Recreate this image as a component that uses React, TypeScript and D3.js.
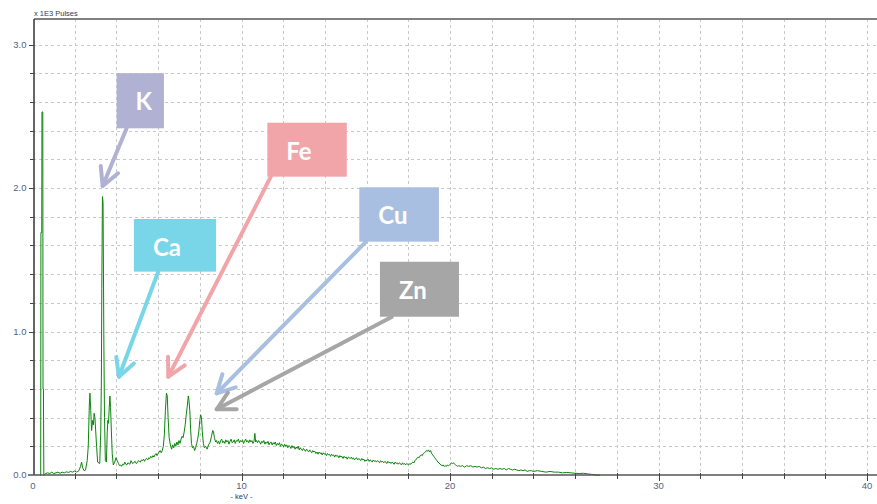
import React, { useEffect, useRef } from 'react';
import * as d3 from 'd3';

const WIDTH = 877;
const HEIGHT = 504;

// EDX spectrum: [keV, x1E3 pulses]
const spectrum: [number, number][] = [
  [0.33, 0], [0.37, 0], [0.38, 1.69], [0.42, 1.69], [0.43, 2.53], [0.47, 2.53], [0.48, 0.6], [0.5, 0.6], [0.52, 0],
  [0.6, 0.01], [0.7, 0.015], [0.8, 0.01], [0.9, 0.02], [1.0, 0.01], [1.1, 0.015], [1.2, 0.02], [1.3, 0.012],
  [1.4, 0.02], [1.5, 0.015], [1.6, 0.022], [1.7, 0.018], [1.8, 0.025], [1.9, 0.02], [2.0, 0.028], [2.1, 0.02],
  [2.2, 0.03], [2.28, 0.06], [2.33, 0.09], [2.38, 0.05], [2.45, 0.03], [2.52, 0.035], [2.6, 0.1], [2.65, 0.2],
  [2.7, 0.48], [2.73, 0.57], [2.77, 0.45], [2.81, 0.31], [2.86, 0.38], [2.9, 0.35], [2.93, 0.43], [2.97, 0.4],
  [3.01, 0.3], [3.05, 0.2], [3.1, 0.09], [3.2, 0.08], [3.25, 0.3], [3.28, 0.67], [3.3, 1.3], [3.33, 1.94],
  [3.36, 1.9], [3.38, 1.4], [3.4, 0.9], [3.43, 0.4], [3.47, 0.1], [3.52, 0.09], [3.56, 0.3], [3.59, 0.38],
  [3.62, 0.36], [3.66, 0.48], [3.69, 0.55], [3.72, 0.47], [3.76, 0.3], [3.8, 0.15], [3.85, 0.07], [3.92, 0.09],
  [3.98, 0.12], [4.04, 0.1], [4.1, 0.08], [4.15, 0.065], [4.2, 0.07], [4.25, 0.06], [4.3, 0.075], [4.35, 0.07],
  [4.4, 0.09], [4.45, 0.075], [4.5, 0.07], [4.55, 0.085], [4.6, 0.08], [4.65, 0.075], [4.7, 0.1], [4.75, 0.085],
  [4.8, 0.08], [4.85, 0.09], [4.9, 0.095], [4.95, 0.08], [5.0, 0.085], [5.05, 0.1], [5.1, 0.095], [5.15, 0.09],
  [5.2, 0.105], [5.25, 0.1], [5.3, 0.11], [5.35, 0.095], [5.4, 0.11], [5.45, 0.115], [5.5, 0.105], [5.55, 0.12],
  [5.6, 0.115], [5.65, 0.13], [5.7, 0.12], [5.75, 0.135], [5.8, 0.125], [5.85, 0.14], [5.9, 0.15], [5.95, 0.135],
  [6.0, 0.15], [6.05, 0.16], [6.1, 0.17], [6.15, 0.155], [6.2, 0.17], [6.25, 0.2], [6.3, 0.28], [6.35, 0.45],
  [6.4, 0.57], [6.44, 0.55], [6.48, 0.4], [6.53, 0.26], [6.6, 0.2], [6.65, 0.18], [6.7, 0.21], [6.75, 0.19],
  [6.8, 0.22], [6.85, 0.2], [6.9, 0.23], [6.95, 0.21], [7.0, 0.24], [7.05, 0.22], [7.1, 0.25], [7.15, 0.27],
  [7.2, 0.26], [7.25, 0.3], [7.3, 0.35], [7.35, 0.42], [7.4, 0.48], [7.45, 0.55], [7.48, 0.52], [7.52, 0.45],
  [7.56, 0.32], [7.6, 0.22], [7.65, 0.19], [7.7, 0.2], [7.75, 0.17], [7.8, 0.19], [7.85, 0.22], [7.9, 0.25],
  [7.95, 0.3], [8.0, 0.38], [8.04, 0.42], [8.08, 0.4], [8.12, 0.3], [8.17, 0.22], [8.22, 0.19], [8.28, 0.2],
  [8.35, 0.18], [8.42, 0.21], [8.5, 0.23], [8.56, 0.27], [8.62, 0.31], [8.66, 0.3], [8.7, 0.26], [8.76, 0.23],
  [8.8, 0.24], [8.85, 0.22], [8.9, 0.235], [8.95, 0.215], [9.0, 0.24], [9.05, 0.25], [9.1, 0.225], [9.15, 0.235],
  [9.2, 0.22], [9.25, 0.245], [9.3, 0.23], [9.35, 0.24], [9.4, 0.215], [9.45, 0.235], [9.5, 0.25], [9.55, 0.225],
  [9.6, 0.23], [9.65, 0.245], [9.7, 0.22], [9.75, 0.24], [9.8, 0.235], [9.85, 0.25], [9.9, 0.225], [9.95, 0.24],
  [10.0, 0.23], [10.05, 0.245], [10.1, 0.22], [10.15, 0.235], [10.2, 0.25], [10.25, 0.23], [10.3, 0.24], [10.35, 0.225],
  [10.4, 0.245], [10.45, 0.23], [10.5, 0.24], [10.55, 0.22], [10.6, 0.235], [10.64, 0.29], [10.68, 0.23], [10.72, 0.24],
  [10.77, 0.225], [10.82, 0.24], [10.87, 0.23], [10.92, 0.215], [10.97, 0.235], [11.02, 0.225], [11.07, 0.24], [11.12, 0.215],
  [11.17, 0.23], [11.22, 0.22], [11.27, 0.235], [11.32, 0.21], [11.37, 0.225], [11.42, 0.23], [11.47, 0.21], [11.52, 0.225],
  [11.57, 0.215], [11.62, 0.23], [11.67, 0.205], [11.72, 0.22], [11.77, 0.21], [11.82, 0.225], [11.87, 0.2], [11.92, 0.215],
  [11.97, 0.21], [12.02, 0.195], [12.07, 0.215], [12.12, 0.2], [12.17, 0.21], [12.22, 0.19], [12.27, 0.205], [12.32, 0.2],
  [12.37, 0.185], [12.42, 0.205], [12.47, 0.19], [12.52, 0.2], [12.57, 0.18], [12.62, 0.195], [12.67, 0.185], [12.72, 0.2],
  [12.77, 0.175], [12.82, 0.19], [12.87, 0.18], [12.92, 0.17], [12.97, 0.185], [13.02, 0.175], [13.07, 0.165], [13.12, 0.18],
  [13.17, 0.17], [13.22, 0.16], [13.27, 0.175], [13.32, 0.165], [13.37, 0.155], [13.42, 0.17], [13.47, 0.16], [13.52, 0.165],
  [13.57, 0.15], [13.62, 0.16], [13.67, 0.145], [13.72, 0.16], [13.77, 0.15], [13.82, 0.155], [13.87, 0.14], [13.92, 0.155],
  [13.97, 0.145], [14.02, 0.15], [14.07, 0.135], [14.12, 0.15], [14.17, 0.14], [14.22, 0.145], [14.27, 0.13], [14.32, 0.145],
  [14.37, 0.135], [14.42, 0.14], [14.47, 0.125], [14.52, 0.14], [14.57, 0.13], [14.62, 0.135], [14.67, 0.12], [14.72, 0.135],
  [14.77, 0.125], [14.82, 0.13], [14.87, 0.115], [14.92, 0.13], [14.97, 0.12], [15.02, 0.125], [15.07, 0.11], [15.12, 0.125],
  [15.17, 0.12], [15.22, 0.115], [15.27, 0.125], [15.32, 0.11], [15.37, 0.12], [15.42, 0.105], [15.47, 0.115], [15.52, 0.12],
  [15.57, 0.105], [15.62, 0.115], [15.67, 0.11], [15.72, 0.1], [15.77, 0.115], [15.82, 0.105], [15.87, 0.11], [15.92, 0.095],
  [15.97, 0.105], [16.02, 0.1], [16.07, 0.11], [16.12, 0.095], [16.17, 0.105], [16.22, 0.1], [16.27, 0.09], [16.32, 0.105],
  [16.37, 0.095], [16.42, 0.1], [16.47, 0.09], [16.52, 0.1], [16.57, 0.095], [16.62, 0.085], [16.67, 0.1], [16.72, 0.09],
  [16.77, 0.095], [16.82, 0.085], [16.87, 0.095], [16.92, 0.09], [16.97, 0.08], [17.02, 0.095], [17.07, 0.085], [17.12, 0.09],
  [17.17, 0.08], [17.22, 0.09], [17.27, 0.085], [17.32, 0.075], [17.37, 0.09], [17.42, 0.08], [17.47, 0.085], [17.52, 0.075],
  [17.57, 0.085], [17.62, 0.08], [17.67, 0.07], [17.72, 0.085], [17.77, 0.075], [17.82, 0.08], [17.87, 0.07], [17.92, 0.08],
  [17.97, 0.075], [18.02, 0.07], [18.07, 0.08], [18.12, 0.075], [18.17, 0.085], [18.22, 0.09], [18.27, 0.085], [18.32, 0.1],
  [18.37, 0.11], [18.42, 0.115], [18.47, 0.125], [18.52, 0.12], [18.57, 0.135], [18.62, 0.14], [18.67, 0.135], [18.72, 0.15],
  [18.77, 0.155], [18.82, 0.16], [18.87, 0.17], [18.92, 0.165], [18.97, 0.175], [19.02, 0.16], [19.07, 0.17], [19.12, 0.15],
  [19.17, 0.14], [19.22, 0.13], [19.27, 0.12], [19.32, 0.11], [19.37, 0.1], [19.42, 0.09], [19.47, 0.085], [19.52, 0.075],
  [19.57, 0.07], [19.62, 0.065], [19.67, 0.07], [19.72, 0.06], [19.77, 0.065], [19.82, 0.06], [19.87, 0.07], [19.92, 0.065],
  [19.97, 0.07], [20.02, 0.075], [20.07, 0.085], [20.12, 0.08], [20.17, 0.085], [20.22, 0.075], [20.27, 0.07], [20.32, 0.065],
  [20.37, 0.06], [20.42, 0.065], [20.5, 0.06], [20.6, 0.065], [20.7, 0.055], [20.8, 0.065], [20.9, 0.06], [21.0, 0.065],
  [21.1, 0.055], [21.2, 0.06], [21.3, 0.055], [21.4, 0.06], [21.5, 0.05], [21.6, 0.055], [21.7, 0.045], [21.8, 0.05],
  [21.9, 0.045], [22.0, 0.05], [22.1, 0.04], [22.2, 0.045], [22.3, 0.04], [22.4, 0.045], [22.5, 0.04], [22.6, 0.045],
  [22.7, 0.035], [22.8, 0.045], [22.9, 0.04], [23.0, 0.035], [23.1, 0.04], [23.2, 0.035], [23.3, 0.03], [23.4, 0.035],
  [23.5, 0.03], [23.6, 0.035], [23.7, 0.025], [23.8, 0.03], [23.9, 0.03], [24.0, 0.025], [24.2, 0.03], [24.4, 0.025],
  [24.6, 0.02], [24.8, 0.025], [25.0, 0.02], [25.2, 0.02], [25.4, 0.015], [25.6, 0.018], [25.8, 0.015], [26.0, 0.012],
  [26.2, 0.01], [26.4, 0.012], [26.6, 0.008], [26.8, 0.004], [27.0, 0], [27.2, 0],
];

const xTickLabels = [0, 10, 20, 30, 40];
const yTickLabels = [0, 1, 2, 3];

// element call-outs, in data units (keV, x1E3 pulses)
const elementNames = ['K', 'Ca', 'Fe', 'Cu', 'Zn'];
const elementColors = ['#b1b1d4', '#78d6e8', '#f2a5a9', '#a9bfe1', '#a6a6a6'];
const boxKeV: [number, number][] = [[4.01, 6.28], [4.84, 8.78], [11.24, 15.05], [15.65, 19.47], [16.64, 20.43]];
const boxPulses: [number, number][] = [[2.8, 2.416], [1.784, 1.417], [2.455, 2.079], [2.005, 1.626], [1.486, 1.103]];
const arrowFrom: [number, number][] = [[4.49, 2.416], [6.0, 1.415], [11.4, 2.077], [15.96, 1.624], [17.2, 1.101]];
const arrowTo: [number, number][] = [[3.34, 2.014], [4.12, 0.685], [6.49, 0.685], [8.81, 0.569], [8.81, 0.458]];

const App: React.FC = () => {
  const ref = useRef<SVGSVGElement>(null);

  useEffect(() => {
    const svg = d3.select(ref.current);
    svg.selectAll('*').remove();

    const left = 33;
    const right = WIDTH;
    const top = 19;
    const bottom = 475;

    const x = d3.scaleLinear().domain([0, 40]).range([left, 867]);
    const y = d3.scaleLinear().domain([0, 3]).range([bottom, 44.5]);

    svg.append('rect').attr('width', WIDTH).attr('height', HEIGHT).attr('fill', '#fff');

    // dashed grid
    const grid = svg.append('g').attr('stroke', '#c9c9c9').attr('stroke-dasharray', '3,3').attr('stroke-width', 1);
    grid.selectAll('.vg')
      .data(d3.range(2, 41, 2))
      .enter()
      .append('line')
      .attr('x1', d => Math.round(x(d)) + 0.5)
      .attr('x2', d => Math.round(x(d)) + 0.5)
      .attr('y1', top)
      .attr('y2', bottom);
    grid.selectAll('.hg')
      .data(d3.range(1, 16).map(i => i * 0.2))
      .enter()
      .append('line')
      .attr('x1', left)
      .attr('x2', right)
      .attr('y1', d => Math.round(y(d)) + 0.5)
      .attr('y2', d => Math.round(y(d)) + 0.5);

    // spectrum
    const line = d3.line<[number, number]>()
      .x(d => x(d[0]))
      .y(d => y(d[1]));
    svg.append('path')
      .datum(spectrum)
      .attr('d', line)
      .attr('fill', 'none')
      .attr('stroke', '#0a860a')
      .attr('stroke-width', 1);

    // frame
    svg.append('line').attr('x1', left + 1).attr('x2', right).attr('y1', top).attr('y2', top)
      .attr('stroke', '#808080').attr('stroke-width', 2);
    svg.append('line').attr('x1', left + 1).attr('x2', left + 1).attr('y1', top).attr('y2', bottom)
      .attr('stroke', '#333').attr('stroke-width', 1.5);
    svg.append('line').attr('x1', 28).attr('x2', right).attr('y1', bottom).attr('y2', bottom)
      .attr('stroke', '#555').attr('stroke-width', 1.5);

    // ticks
    const ticks = svg.append('g').attr('stroke', '#444').attr('stroke-width', 1);
    ticks.selectAll('.xt')
      .data(d3.range(2, 41, 2))
      .enter()
      .append('line')
      .attr('x1', d => Math.round(x(d)) + 0.5)
      .attr('x2', d => Math.round(x(d)) + 0.5)
      .attr('y1', bottom - 2)
      .attr('y2', d => (d % 10 === 0 ? bottom + 6 : bottom + 4));
    ticks.selectAll('.yt')
      .data(d3.range(1, 16).map(i => i * 0.2))
      .enter()
      .append('line')
      .attr('x1', d => (Math.abs(d - Math.round(d)) < 0.01 ? left - 4 : left - 3))
      .attr('x2', left + 1)
      .attr('y1', d => Math.round(y(d)) + 0.5)
      .attr('y2', d => Math.round(y(d)) + 0.5);

    const labelFont = '"Liberation Sans", Arial, sans-serif';
    svg.selectAll('.xl')
      .data(xTickLabels)
      .enter()
      .append('text')
      .attr('x', d => x(d))
      .attr('y', 489)
      .attr('text-anchor', 'middle')
      .attr('font-family', labelFont)
      .attr('font-size', 9.5)
      .attr('fill', '#56617e')
      .text(d => String(d));
    svg.selectAll('.yl')
      .data(yTickLabels)
      .enter()
      .append('text')
      .attr('x', 26.5)
      .attr('y', d => y(d) + 3.4)
      .attr('text-anchor', 'end')
      .attr('font-family', labelFont)
      .attr('font-size', 9.5)
      .attr('fill', '#56617e')
      .text(d => d.toFixed(1));

    svg.append('text')
      .attr('x', 34)
      .attr('y', 16)
      .attr('font-family', labelFont)
      .attr('font-size', 7.5)
      .attr('fill', '#2b3a67')
      .text('x 1E3 Pulses');
    svg.append('text')
      .attr('x', x(10))
      .attr('y', 499)
      .attr('text-anchor', 'middle')
      .attr('font-family', labelFont)
      .attr('font-size', 7.5)
      .attr('fill', '#2b3a67')
      .text('- keV -');

    // call-out boxes with arrows
    elementNames.forEach((name, i) => {
      const color = elementColors[i];
      const bx0 = x(boxKeV[i][0]);
      const bx1 = x(boxKeV[i][1]);
      const by0 = y(boxPulses[i][0]);
      const by1 = y(boxPulses[i][1]);

      const g = svg.append('g');
      g.append('rect')
        .attr('x', bx0)
        .attr('y', by0)
        .attr('width', bx1 - bx0)
        .attr('height', by1 - by0)
        .attr('fill', color);
      g.append('text')
        .attr('x', bx0 + 19)
        .attr('y', by0 + 37)
        .attr('font-family', 'Lato, "Open Sans", sans-serif')
        .attr('font-weight', 700)
        .attr('font-size', 24)
        .attr('fill', '#fff')
        .text(name);

      const fx = x(arrowFrom[i][0]);
      const fy = y(arrowFrom[i][1]);
      const tx = x(arrowTo[i][0]);
      const ty = y(arrowTo[i][1]);
      const ang = Math.atan2(fy - ty, fx - tx);
      const spread = (28 * Math.PI) / 180;
      const len = 20;
      const head = [ang - spread, ang + spread].map(a => [tx + len * Math.cos(a), ty + len * Math.sin(a)]);

      g.append('line')
        .attr('x1', fx).attr('y1', fy).attr('x2', tx).attr('y2', ty)
        .attr('stroke', color).attr('stroke-width', 4).attr('stroke-linecap', 'round');
      g.append('path')
        .attr('d', `M${head[0][0]},${head[0][1]}L${tx},${ty}L${head[1][0]},${head[1][1]}`)
        .attr('fill', 'none')
        .attr('stroke', color)
        .attr('stroke-width', 4)
        .attr('stroke-linecap', 'round')
        .attr('stroke-linejoin', 'round');
    });
  }, []);

  return (
    <svg
      ref={ref}
      width={WIDTH}
      height={HEIGHT}
      style={{ position: 'absolute', left: 0, top: 0, display: 'block' }}
    />
  );
};

export default App;
